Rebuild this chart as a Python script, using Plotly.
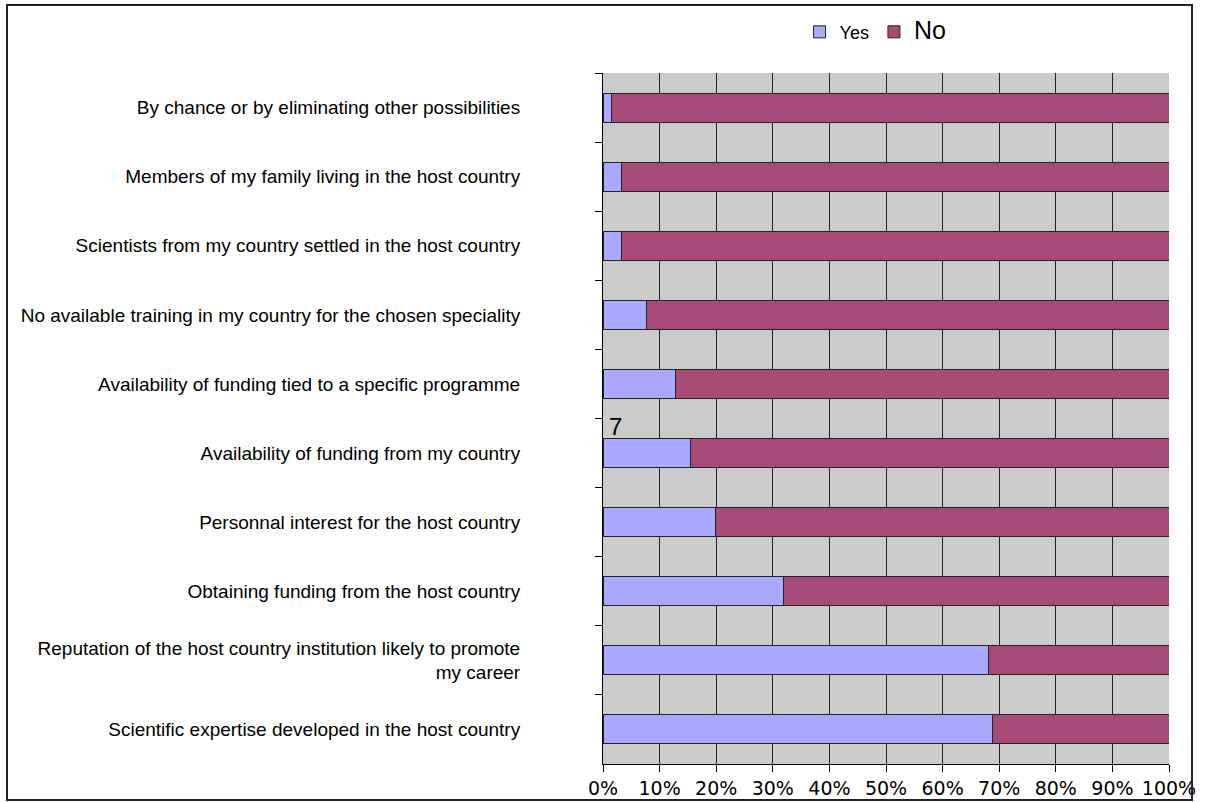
import plotly.graph_objects as go

# reasons for choosing the host country, top to bottom
reasons = [
    "By chance or by eliminating other possibilities",
    "Members of my family living in the host country",
    "Scientists from my country settled in the host country",
    "No available training in my country for the chosen speciality",
    "Availability of funding tied to a specific programme",
    "Availability of funding from my country",
    "Personnal interest for the host country",
    "Obtaining funding from the host country",
    "Reputation of the host country institution likely to promote<br>my career",
    "Scientific expertise developed in the host country",
]
yes_pct = [1.5, 3.2, 3.2, 7.6, 12.8, 15.4, 19.9, 31.9, 68.1, 68.8]
no_pct = [98.5, 96.8, 96.8, 92.4, 87.2, 84.6, 80.1, 68.1, 31.9, 31.2]
x_ticks = [0, 10, 20, 30, 40, 50, 60, 70, 80, 90, 100]

W, H = 1217, 802
L, R, T, B = 603, 48, 73, 38
pw, ph = W - L - R, H - T - B

label_font = dict(family="Liberation Sans, Arial", size=19, color="black")

fig = go.Figure()
fig.add_trace(go.Bar(y=reasons, x=yes_pct, orientation="h", name="Yes", width=0.42,
                     marker=dict(color="#A9A9FF", line=dict(color="#222", width=1))))
fig.add_trace(go.Bar(y=reasons, x=no_pct, orientation="h",
                     name='<span style="font-size:25px">No</span>', width=0.42,
                     marker=dict(color="#A84A78", line=dict(color="#222", width=1))))

fig.update_layout(
    barmode="stack",
    width=W, height=H,
    margin=dict(l=L, r=R, t=T, b=B, autoexpand=False),
    paper_bgcolor="white",
    plot_bgcolor="#CBCBCB",
    showlegend=True,
    legend=dict(orientation="h", xref="container", yref="container", x=0.657, y=0.983,
                xanchor="left", yanchor="top", font=dict(family="Liberation Sans, Arial", size=18, color="black"),
                bgcolor="rgba(0,0,0,0)", itemwidth=30, traceorder="normal"),
    xaxis=dict(range=[0, 100], tickvals=x_ticks, ticktext=[f"{v}%" for v in x_ticks],
               showgrid=True, gridcolor="#222", gridwidth=1, zeroline=False,
               showline=True, linecolor="black", linewidth=1, automargin=False,
               ticks="outside", ticklen=7, tickcolor="black",
               tickfont=dict(family="DejaVu Sans, Verdana", size=19, color="black")),
    yaxis=dict(categoryorder="array", categoryarray=reasons, autorange="reversed",
               tickson="boundaries", ticks="outside", ticklen=7, tickcolor="black",
               showline=True, linecolor="black", linewidth=1, showgrid=False, automargin=False,
               ticklabelstandoff=78, tickfont=label_font),
)

# stray data label from the original chart
fig.add_annotation(x=0, y=reasons[5], xref="x", yref="y", text="7", showarrow=False,
                   xanchor="left", xshift=4, yshift=27,
                   font=dict(family="Liberation Sans, Arial", size=24, color="black"))

# outer frame
fig.add_shape(type="rect", xref="paper", yref="paper",
              x0=(7 - L) / pw, x1=(1192 - L) / pw,
              y0=(H - B - 800) / ph, y1=(H - B - 5) / ph,
              line=dict(color="#222", width=2), fillcolor="rgba(0,0,0,0)", layer="above")

fig.write_html("out.html", config={"displayModeBar": False},
               post_script="document.body.style.margin='0';")
